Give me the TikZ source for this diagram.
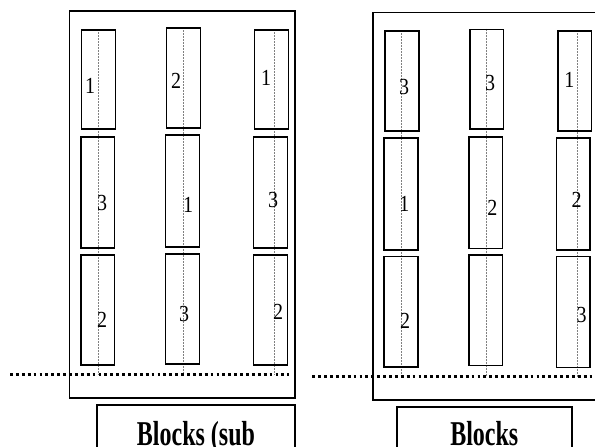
\documentclass[tikz,border=0pt]{standalone}
\usepackage{fontspec}
\setmainfont{Liberation Serif}
\begin{document}
\begin{tikzpicture}[x=1pt,y=-1pt,
  blk/.style={draw, line width=1.6pt, inner sep=0pt, minimum width=33.7pt},
  frame/.style={draw, line width=1.6pt},
  guide/.style={draw=gray, line width=0.5pt, dash pattern=on 2pt off 1pt},
  dotline/.style={line width=2.8pt, dash pattern=on 2.8pt off 3.1pt},
  lab/.style={inner sep=0pt, font=\fontsize{20}{20}\selectfont},
  captxt/.style={inner sep=0pt, anchor=base, font=\fontsize{24}{24}\selectfont\bfseries}]
\useasboundingbox (0,0) rectangle (595,447);
\clip (0,0) rectangle (595,447);
% outer frames
\draw[frame] (69.5,11) rectangle (295,398);
\draw[frame] (373,12.3) rectangle (640,399.7);
% caption boxes
\draw[frame] (97,405) rectangle (295,470);
\draw[frame] (397,407) rectangle (571.7,470);
% guides (behind blocks)
\coordinate (g1t) at (98,29);   \coordinate (g1b) at (98,374.7);
\coordinate (g2t) at (183,27);  \coordinate (g2b) at (183,374.7);
\coordinate (g3t) at (274,29);  \coordinate (g3b) at (274,374.7);
\coordinate (g4t) at (401.7,30);  \coordinate (g4b) at (401.7,376.7);
\coordinate (g5t) at (486.3,28.7);\coordinate (g5b) at (486.3,376.7);
\coordinate (g6t) at (577.7,30);  \coordinate (g6b) at (577.7,376.7);
\foreach \g in {1,...,6} \draw[guide] (g\g t) -- (g\g b);
% left blocks
\node[blk, minimum height=99.4pt]  (L11) at (98.5,79.5) {};
\node[blk, minimum height=111.4pt] (L12) at (97.75,192.5) {};
\node[blk, minimum height=110.4pt] (L13) at (97.75,310) {};
\node[blk, minimum height=100.4pt] (L21) at (183.5,78) {};
\node[blk, minimum height=112.4pt] (L22) at (182.5,191) {};
\node[blk, minimum height=110.4pt] (L23) at (182.5,309) {};
\node[blk, minimum height=99.4pt]  (L31) at (271.5,79.5) {};
\node[blk, minimum height=111.4pt] (L32) at (270.5,192.5) {};
\node[blk, minimum height=110.4pt] (L33) at (270.5,310) {};
% right blocks
\node[blk, minimum height=100.1pt] (R11) at (402,80.85) {};
\node[blk, minimum height=112.1pt] (R12) at (401,194.15) {};
\node[blk, minimum height=110.7pt] (R13) at (401,311.85) {};
\node[blk, minimum height=99.7pt]  (R21) at (486.65,79.35) {};
\node[blk, minimum height=111.7pt] (R22) at (485.65,192.65) {};
\node[blk, minimum height=110.7pt] (R23) at (485.65,310.15) {};
\node[blk, minimum height=100.1pt] (R31) at (574.65,80.85) {};
\node[blk, minimum height=112.1pt] (R32) at (573.35,194.15) {};
\node[blk, minimum height=111pt]   (R33) at (573.35,312) {};
% labels
\node[lab] (tL11) at (90,86) {\scalebox{1}[1.15]{1}};
\node[lab] (tL12) at (102,203) {\scalebox{1}[1.15]{3}};
\node[lab] (tL13) at (102,320) {\scalebox{1}[1.15]{2}};
\node[lab] (tL21) at (176,81) {\scalebox{1}[1.15]{2}};
\node[lab] (tL22) at (188,205) {\scalebox{1}[1.15]{1}};
\node[lab] (tL23) at (184,314) {\scalebox{1}[1.15]{3}};
\node[lab] (tL31) at (266,78) {\scalebox{1}[1.15]{1}};
\node[lab] (tL32) at (273,200) {\scalebox{1}[1.15]{3}};
\node[lab] (tL33) at (278,312) {\scalebox{1}[1.15]{2}};
\node[lab] (tR11) at (404,87) {\scalebox{1}[1.15]{3}};
\node[lab] (tR12) at (404.3,204) {\scalebox{1}[1.15]{1}};
\node[lab] (tR13) at (405,321) {\scalebox{1}[1.15]{2}};
\node[lab] (tR21) at (490,83) {\scalebox{1}[1.15]{3}};
\node[lab] (tR22) at (492.3,208) {\scalebox{1}[1.15]{2}};
\node[lab] (tR31) at (569.3,80) {\scalebox{1}[1.15]{1}};
\node[lab] (tR32) at (576.7,200) {\scalebox{1}[1.15]{2}};
\node[lab] (tR33) at (581.7,315) {\scalebox{1}[1.15]{3}};
% dotted lines
\coordinate (dL1) at (10,374.7);  \coordinate (dL2) at (289,374.7);
\coordinate (dR1) at (312.3,376.7); \coordinate (dR2) at (595,376.7);
\draw[dotline] (dL1) -- (dL2);
\draw[dotline] (dR1) -- (dR2);
% captions
\node[captxt] (c1) at (196,445.5) {\scalebox{1}[1.45]{Blocks (sub}};
\node[captxt] (c2) at (484.3,445.5) {\scalebox{1}[1.45]{Blocks}};
\end{tikzpicture}
\end{document}
